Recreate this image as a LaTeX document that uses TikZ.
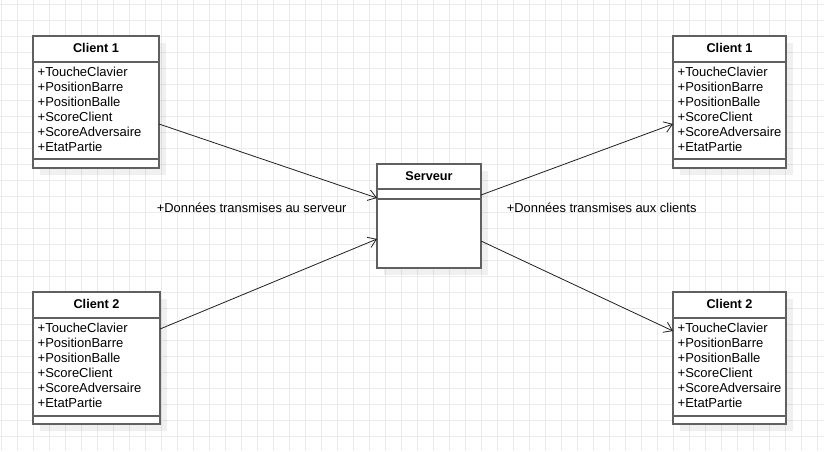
\documentclass[tikz,border=0pt]{standalone}
\usepackage{fontspec}
\setmainfont{Liberation Sans}
\usetikzlibrary{arrows.meta}
\definecolor{gridc}{HTML}{EBEBEB}
\definecolor{boxc}{HTML}{606060}
\definecolor{linec}{HTML}{202020}
\tikzset{
  classbox/.style={draw=boxc, line width=1.4pt, fill=white, inner sep=0pt, outer sep=0pt},
  sepline/.style={draw=boxc, line width=1.4pt},
  shadowbox/.style={fill=black, fill opacity=0.06},
  attr/.style={font=\fontsize{13}{15}\selectfont, inner sep=0pt, anchor=base west},
  titletext/.style={font=\fontsize{12.7}{15}\selectfont\bfseries, inner sep=0pt, anchor=base},
  lbl/.style={font=\fontsize{12.9}{15}\selectfont, inner sep=0pt, anchor=base},
  conn/.style={draw=linec, line width=0.8pt, -{Straight Barb[length=8pt,width=11pt,line width=0.8pt]}},
}
% #1 name, #2 x, #3 y, #4 width, #5 height, #6 header h, #7 attr sep (from top), #8 title
\newcommand\classbox[8]{%
  \fill[shadowbox] (#2+7,#3+7) rectangle ++(#4,#5);
  \node[classbox, minimum width=#4pt, minimum height=#5pt, anchor=north west] (#1) at (#2,#3) {};
  \draw[sepline] ([yshift=-#6pt]#1.north west) -- ([yshift=-#6pt]#1.north east);
  \draw[sepline] ([yshift=-#7pt]#1.north west) -- ([yshift=-#7pt]#1.north east);
  \node[titletext] (#1-t) at ([yshift=-16.8pt]#1.north) {#8};
}
\newcommand\attrlist[1]{%
  \foreach \t [count=\i] in {+ToucheClavier,+PositionBarre,+PositionBalle,+ScoreClient,+ScoreAdversaire,+EtatPartie}
    \node[attr] (#1-a\i) at ([xshift=4.5pt,yshift={-40.3pt-15pt*(\i-1)}]#1.north west) {\t};
}
\begin{document}
\begin{tikzpicture}[x=1pt,y=-1pt]
\useasboundingbox (0,0) rectangle (824,451);
\fill[white] (0,0) rectangle (824,451);
% grid
\foreach \gx in {0,...,51} \draw[gridc, line width=0.9pt] (1+16*\gx,0) -- (1+16*\gx,451);
\foreach \gy in {0,...,28} \draw[gridc, line width=0.9pt] (0,4.5+16*\gy) -- (824,4.5+16*\gy);

\classbox{c1l}{33}{36}{126}{132}{26}{123}{Client 1}
\attrlist{c1l}
\classbox{c2l}{33}{292}{127}{132}{26}{124}{Client 2}
\attrlist{c2l}
\classbox{c1r}{673}{36}{113}{132}{26}{123}{Client 1}
\attrlist{c1r}
\classbox{c2r}{673}{292}{113}{132}{26}{124}{Client 2}
\attrlist{c2r}
\classbox{srv}{377}{164}{104}{104}{25}{35}{Serveur}

% labels
\node[lbl] (l1) at (251.7,212.7) {+Données transmises au serveur};
\node[lbl] (l2) at (601.7,212.2) {+Données transmises aux clients};

% connectors
\draw[conn] ([yshift=-88pt]c1l.north east) -- ([yshift=-34pt]srv.north west);
\draw[conn] ([yshift=-37pt]c2l.north east) -- ([yshift=-75pt]srv.north west);
\draw[conn] ([yshift=-31pt]srv.north east) -- ([yshift=-88pt]c1r.north west);
\draw[conn] ([yshift=-77pt]srv.north east) -- ([yshift=-39pt]c2r.north west);
\end{tikzpicture}
\end{document}
